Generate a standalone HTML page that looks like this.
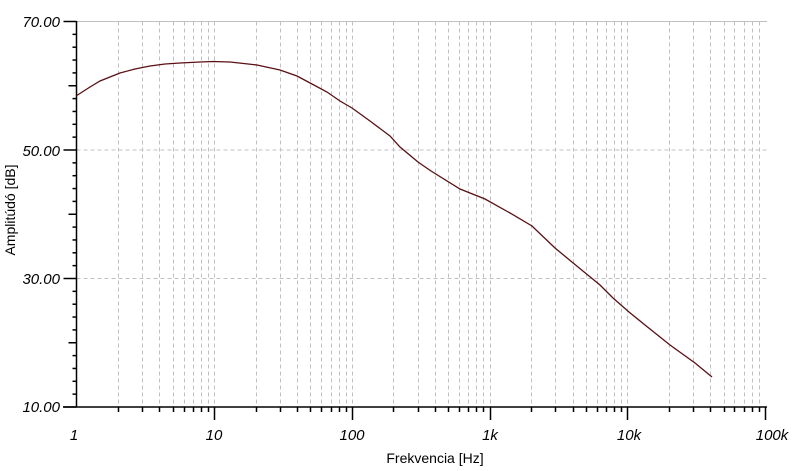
<!DOCTYPE html>
<html><head><meta charset="utf-8"><style>
html,body{margin:0;padding:0;background:#fff;}
svg{display:block;}
text{font-family:"Liberation Sans",sans-serif;font-size:15px;fill:#000;}
.t{font-style:italic;}
</style></head><body>
<svg width="792" height="471" viewBox="0 0 792 471" xmlns="http://www.w3.org/2000/svg">
<g id="grid" stroke="#c0c0c0" stroke-width="1" stroke-dasharray="4,3" fill="none"></g>
<line x1="76.5" y1="21.5" x2="767" y2="21.5" stroke="#c0c0c0"/>
<g id="ticks" stroke="#000" stroke-width="1.5" fill="none"></g>
<line x1="76.5" y1="21" x2="76.5" y2="407" stroke="#000" stroke-width="1.5"/>
<line x1="63" y1="407" x2="767" y2="407" stroke="#000" stroke-width="1.5"/>
<polyline fill="none" stroke="#5a0f14" stroke-width="1.3" points="76,96 90,87 100,81 120,73 135,69 150,66 165,64 180,63 200,62 213,61.5 230,62 257,65 280,70 297,76 312,84 327,92 340,101 352,108 370,121 390,136 400,147 418,162 431,171 460,189 485,199 510,213 532,226 555,248 578,267 600,285 613,298 629,312 645,325 670,345 695,363 712,377"/>
<text class="t" x="60" y="27" text-anchor="end">70.00</text>
<text class="t" x="60" y="156" text-anchor="end">50.00</text>
<text class="t" x="60" y="284" text-anchor="end">30.00</text>
<text class="t" x="60" y="412" text-anchor="end">10.00</text>
<text class="t" x="74" y="440" text-anchor="middle">1</text>
<text class="t" x="214" y="440" text-anchor="middle">10</text>
<text class="t" x="352" y="440" text-anchor="middle">100</text>
<text class="t" x="490" y="440" text-anchor="middle">1k</text>
<text class="t" x="629" y="440" text-anchor="middle">10k</text>
<text class="t" x="772" y="440" text-anchor="middle">100k</text>
<text x="435" y="463" text-anchor="middle" style="font-size:14px">Frekvencia [Hz]</text>
<text x="15" y="210" text-anchor="middle" transform="rotate(-90 15 210)" style="font-size:14px">Amplitúdó [dB]</text>
</svg>
<script>
var g=document.getElementById('grid'),tk=document.getElementById('ticks'),ns='http://www.w3.org/2000/svg';
function L(p,a,b,c,d){var l=document.createElementNS(ns,'line');l.setAttribute('x1',a);l.setAttribute('y1',b);l.setAttribute('x2',c);l.setAttribute('y2',d);p.appendChild(l);}
var x0=76.5,dec=137.7;
for(var k=0;k<5;k++)for(var m=1;m<=9;m++){var x=x0+dec*(k+Math.log10(m));if(k==0&&m==1)continue;x=Math.round(x)+0.5;L(g,x,21.5,x,407);L(tk,x,407,x,m==1?420:412);}
L(tk,765.5,407,765.5,420);
L(g,76.5,150,767,150);L(g,76.5,278.5,767,278.5);
for(var v=10;v<=70;v+=2){var y=407-(v-10)*6.425;var len=(v-10)%20==0?13:((v-10)%10==0?8:4);L(tk,76.5-len,y,76.5,y);}
</script>
</body></html>
